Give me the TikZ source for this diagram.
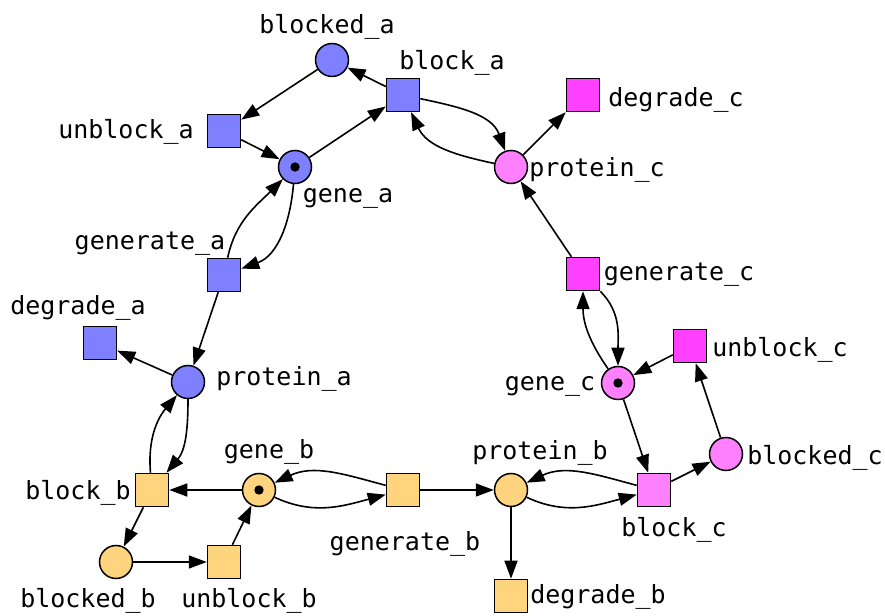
\documentclass[tikz,border=0pt]{standalone}
\usepackage{fontspec}
\usepackage{xcolor}
\usepackage{tikz}
\usetikzlibrary{arrows.meta}
\newfontfamily\netfont{DejaVu Sans Mono}
\definecolor{blueA}{HTML}{7F80FF}
\definecolor{yellowB}{HTML}{FFD47F}
\definecolor{pinkC}{HTML}{FF80FF}
\definecolor{magentaC}{HTML}{FF40FF}
\tikzset{
  place/.style={circle, draw, line width=1.5pt, minimum size=33pt, inner sep=0pt},
  trans/.style={rectangle, draw, line width=1.5pt, minimum size=33pt, inner sep=0pt},
  lab/.style={font=\netfont\fontsize{25}{30}\selectfont, inner sep=0pt},
  flow/.style={-{Triangle[length=18pt,width=13pt]}, line width=1.6pt},
}

\begin{document}
\begin{tikzpicture}[x=1pt,y=1pt]
\useasboundingbox (0,0) rectangle (885,615);
\node[place, fill=blueA] (blocked_a) at (332,555) {};
\node[trans, fill=blueA] (block_a) at (403,520) {};
\node[trans, fill=blueA] (unblock_a) at (224,484) {};
\node[place, fill=blueA] (gene_a) at (295,448) {};
\node[trans, fill=blueA] (generate_a) at (224,340) {};
\node[trans, fill=blueA] (degrade_a) at (100,272) {};
\node[place, fill=blueA] (protein_a) at (188,233) {};
\node[place, fill=pinkC] (protein_c) at (511,448) {};
\node[trans, fill=magentaC] (degrade_c) at (583,520) {};
\node[trans, fill=magentaC] (generate_c) at (583,341) {};
\node[trans, fill=magentaC] (unblock_c) at (690,269) {};
\node[place, fill=pinkC] (gene_c) at (618,232) {};
\node[place, fill=pinkC] (blocked_c) at (726,161) {};
\node[trans, fill=pinkC] (block_c) at (654,125) {};
\node[place, fill=yellowB] (protein_b) at (511,125) {};
\node[trans, fill=yellowB] (degrade_b) at (511,19) {};
\node[trans, fill=yellowB] (generate_b) at (403,125) {};
\node[place, fill=yellowB] (gene_b) at (259,125) {};
\node[trans, fill=yellowB] (block_b) at (152,125) {};
\node[place, fill=yellowB] (blocked_b) at (116,53) {};
\node[trans, fill=yellowB] (unblock_b) at (224,53) {};
\fill (gene_a) circle[radius=4.7];
\fill (gene_b) circle[radius=4.7];
\fill (gene_c) circle[radius=4.7];
\node[lab] (l_blocked_a) at (327,588) {blocked\_a};
\node[lab] (l_block_a) at (452,552) {block\_a};
\node[lab] (l_unblock_a) at (126,483) {unblock\_a};
\node[lab] (l_gene_a) at (348,417) {gene\_a};
\node[lab] (l_generate_a) at (150,371) {generate\_a};
\node[lab] (l_degrade_a) at (78,307) {degrade\_a};
\node[lab] (l_protein_a) at (284,236) {protein\_a};
\node[lab] (l_protein_c) at (597,445) {protein\_c};
\node[lab] (l_degrade_c) at (676,515) {degrade\_c};
\node[lab] (l_generate_c) at (679,340) {generate\_c};
\node[lab] (l_unblock_c) at (780,265) {unblock\_c};
\node[lab] (l_gene_c) at (550,229) {gene\_c};
\node[lab] (l_blocked_c) at (815,157) {blocked\_c};
\node[lab] (l_block_c) at (674,85) {block\_c};
\node[lab] (l_protein_b) at (540,162) {protein\_b};
\node[lab] (l_degrade_b) at (598,18) {degrade\_b};
\node[lab] (l_generate_b) at (405,71) {generate\_b};
\node[lab] (l_gene_b) at (269,163) {gene\_b};
\node[lab] (l_block_b) at (78,122) {block\_b};
\node[lab] (l_blocked_b) at (88,14) {blocked\_b};
\node[lab] (l_unblock_b) at (249,14) {unblock\_b};
\draw[flow] (block_a) -- (blocked_a);
\draw[flow] (blocked_a) -- (unblock_a);
\draw[flow] (unblock_a) -- (gene_a);
\draw[flow] (gene_a) -- (block_a);
\draw[flow] (block_a) to[out=-12, in=110] (protein_c);
\draw[flow] (protein_c) to[out=168, in=-65] (block_a);
\draw[flow] (protein_c) -- (degrade_c);
\draw[flow] (generate_c) -- (protein_c);
\draw[flow] (generate_a) to[out=78, in=-135] (gene_a);
\draw[flow] (gene_a) to[out=-95, in=20] (generate_a);
\draw[flow] (generate_a) -- (protein_a);
\draw[flow] (protein_a) -- (degrade_a);
\draw[flow] (block_b) to[out=95, in=-130] (protein_a);
\draw[flow] (protein_a) to[out=-90, in=50] (block_b);
\draw[flow] (gene_b) -- (block_b);
\draw[flow] (block_b) -- (blocked_b);
\draw[flow] (blocked_b) -- (unblock_b);
\draw[flow] (unblock_b) -- (gene_b);
\draw[flow] (generate_b) to[out=165, in=25] (gene_b);
\draw[flow] (gene_b) to[out=-25, in=195] (generate_b);
\draw[flow] (generate_b) -- (protein_b);
\draw[flow] (protein_b) -- (degrade_b);
\draw[flow] (block_c) to[out=165, in=25] (protein_b);
\draw[flow] (protein_b) to[out=-25, in=195] (block_c);
\draw[flow] (gene_c) -- (block_c);
\draw[flow] (block_c) -- (blocked_c);
\draw[flow] (blocked_c) -- (unblock_c);
\draw[flow] (unblock_c) -- (gene_c);
\draw[flow] (gene_c) to[out=125, in=-90] (generate_c);
\draw[flow] (generate_c) to[out=-45, in=90] (gene_c);
\end{tikzpicture}
\end{document}
